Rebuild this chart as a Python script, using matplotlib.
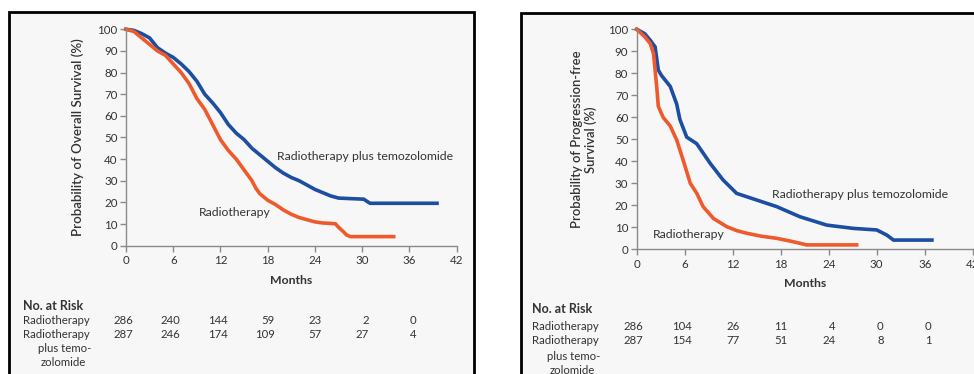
import matplotlib
matplotlib.use("Agg")
import matplotlib.pyplot as plt
from matplotlib.patches import Rectangle
from matplotlib.transforms import blended_transform_factory, offset_copy

# ---------------- data ----------------
months_ticks = [0, 6, 12, 18, 24, 30, 36, 42]
pct_ticks = [0, 10, 20, 30, 40, 50, 60, 70, 80, 90, 100]

# Overall survival (left panel)
os_rt_t = [0, 1, 2, 3, 4, 5, 6, 7, 8, 9, 10, 11, 12, 13, 14, 15, 16, 16.5, 17, 18, 19, 20,
           21, 22, 23, 24, 25, 26, 26.6, 27, 27.6, 28, 28.5, 34]
os_rt_s = [100, 99, 96, 93, 90, 88, 84, 80, 75, 68, 63, 56, 49, 44, 40, 35, 30, 26.5, 24, 21,
           19, 16.5, 14.5, 13, 12, 11, 10.5, 10.3, 10.1, 8.5, 6.5, 5, 4.2, 4.2]
os_tmz_t = [0, 1, 2, 3, 4, 5, 6, 7, 8, 9, 10, 11, 12, 13, 14, 15, 16, 17, 18, 19, 20, 21,
            22, 23, 24, 25, 26, 27, 30.2, 30.6, 31, 39.5]
os_tmz_s = [100, 99.5, 98, 96, 91.5, 89, 87, 84, 80.5, 76, 70, 66, 61.5, 56, 52, 49, 45, 42,
            39, 36, 33.5, 31.5, 30, 28, 26, 24.5, 23, 22, 21.5, 20.5, 19.6, 19.6]

# Progression-free survival (right panel)
pfs_rt_t = [0, 1, 1.7, 2.1, 2.3, 2.5, 2.7, 3.3, 4.2, 5, 5.8, 6.7, 7.5, 8.3, 9.6, 11.25, 12.5,
            13.75, 15.5, 17.5, 19.5, 21.25, 27.5]
pfs_rt_s = [100, 96.6, 93.5, 89, 81.5, 74, 65, 60, 56, 49.7, 40.6, 30, 25.5, 19.4, 14, 10.3,
            8.5, 7.3, 6, 5, 3.5, 2, 2]
pfs_tmz_t = [0, 1, 1.7, 2.3, 2.7, 3.1, 4.2, 5, 5.4, 6.25, 7.5, 9.2, 10.8, 12.5, 15, 17.5,
             20.4, 23.75, 27.1, 30, 31.25, 32.1, 36.9]
pfs_tmz_s = [100, 98, 95, 92, 81.5, 79, 74, 66, 59, 51, 48, 39, 31.5, 25.4, 22.4, 19.4,
             14.8, 11, 9.5, 8.8, 6.5, 4.2, 4.2]

risk_ticks = [0, 6, 12, 18, 24, 30, 36]
os_risk_rt = [286, 240, 144, 59, 23, 2, 0]
os_risk_tmz = [287, 246, 174, 109, 57, 27, 4]
pfs_risk_rt = [286, 104, 26, 11, 4, 0, 0]
pfs_risk_tmz = [287, 154, 77, 51, 24, 8, 1]

label_rt = "Radiotherapy"
label_tmz = "Radiotherapy plus temozolomide"

# ---------------- style ----------------
W, H = 974, 374
plt.rcParams['font.family'] = ['Lato', 'DejaVu Sans']
BLUE = "#1c4ea2"
RED = "#ee5a2c"
TXT = "#333333"
AXC = "#8a8a8a"
BG = "#f7f7f7"

fig = plt.figure(figsize=(W / 100, H / 100), dpi=100)
fig.patch.set_facecolor("white")


def fx(px):
    return px / W


def fy(py):
    return 1 - py / H


# panel boxes
for (x0, y0, x1) in [(9, 12, 474), (521, 13, 990)]:
    fig.patches.append(Rectangle((fx(x0), fy(380)), fx(x1 - x0), (380 - y0) / H,
                                 transform=fig.transFigure, facecolor=BG,
                                 edgecolor="black", linewidth=2.0, zorder=-5))


def make_axes(left_px, x42_px, y100_px, y0_px):
    ax = fig.add_axes([fx(left_px), fy(y0_px), fx(x42_px - left_px), (y0_px - y100_px) / H])
    ax.set_zorder(2)
    ax.patch.set_visible(False)
    ax.set_xlim(0, 42)
    ax.set_ylim(0, 100)
    for s in ["top", "right"]:
        ax.spines[s].set_visible(False)
    for s in ["left", "bottom"]:
        ax.spines[s].set_color(AXC)
        ax.spines[s].set_linewidth(1.0)
    ax.set_xticks(months_ticks)
    ax.set_yticks(pct_ticks)
    ax.tick_params(axis="both", direction="out", length=4, width=1.0, color=AXC,
                   labelsize=8.3, labelcolor=TXT, pad=2)
    ax.tick_params(axis="x", pad=3)
    return ax


def risk_table(ax, x_label_px, y_rows_px, rt_vals, tmz_vals, right_label_px):
    fig.text(fx(x_label_px), fy(y_rows_px[0]), "No. at Risk", fontsize=9,
             fontweight="bold", color=TXT, va="center", ha="left")
    fig.text(fx(x_label_px), fy(y_rows_px[1]), label_rt, fontsize=8.2, color=TXT,
             va="center", ha="left")
    fig.text(fx(x_label_px), fy(y_rows_px[2]), label_rt, fontsize=8.2, color=TXT,
             va="center", ha="left")
    fig.text(fx(right_label_px), fy(y_rows_px[3]), "plus temo-", fontsize=8.2, color=TXT,
             va="center", ha="right")
    fig.text(fx(right_label_px - 28), fy(y_rows_px[4]), "zolomide", fontsize=8.2, color=TXT,
             va="center", ha="center")
    tr = blended_transform_factory(ax.transData, fig.transFigure)
    tr = offset_copy(tr, fig=fig, x=7, y=0, units="dots")
    for t, a, b in zip(risk_ticks, rt_vals, tmz_vals):
        fig.text(t, fy(y_rows_px[1]), str(a), transform=tr, fontsize=8.2, color=TXT,
                 va="center", ha="right")
        fig.text(t, fy(y_rows_px[2]), str(b), transform=tr, fontsize=8.2, color=TXT,
                 va="center", ha="right")


# ---------------- left panel ----------------
ax1 = make_axes(126, 456.7, 29.3, 245.7)
ax1.plot(os_tmz_t, os_tmz_s, color=BLUE, lw=2.6, solid_joinstyle="miter", clip_on=False)
ax1.plot(os_rt_t, os_rt_s, color=RED, lw=2.6, solid_joinstyle="miter", clip_on=False)
ax1.text(19.2, 41, label_tmz, fontsize=8.8, color=TXT, va="center", ha="left")
ax1.text(9.2, 15.5, label_rt, fontsize=8.8, color=TXT, va="center", ha="left")
ax1.set_xlabel("Months", fontsize=8.8, fontweight="bold", color=TXT, labelpad=6)
ax1.set_ylabel("Probability of Overall Survival (%)", fontsize=9.6, fontweight="semibold",
               color=TXT, labelpad=10)
risk_table(ax1, 23, [306, 320, 334, 348, 362], os_risk_rt, os_risk_tmz, 91)

# ---------------- right panel ----------------
ax2 = make_axes(636.7, 972.7, 29.3, 249.3)
ax2.plot(pfs_tmz_t, pfs_tmz_s, color=BLUE, lw=2.6, solid_joinstyle="miter", clip_on=False)
ax2.plot(pfs_rt_t, pfs_rt_s, color=RED, lw=2.6, solid_joinstyle="miter", clip_on=False)
ax2.text(16.9, 25, label_tmz, fontsize=8.8, color=TXT, va="center", ha="left")
ax2.text(2.0, 6.5, label_rt, fontsize=8.8, color=TXT, va="center", ha="left")
ax2.set_xlabel("Months", fontsize=8.8, fontweight="bold", color=TXT, labelpad=6)
ax2.set_ylabel("Probability of Progression-free\nSurvival (%)", fontsize=9.4,
               fontweight="semibold", color=TXT, labelpad=8, linespacing=1.15)
risk_table(ax2, 532, [309, 326, 341, 356, 370], pfs_risk_rt, pfs_risk_tmz, 600)

fig.savefig("out.png", dpi=100)
